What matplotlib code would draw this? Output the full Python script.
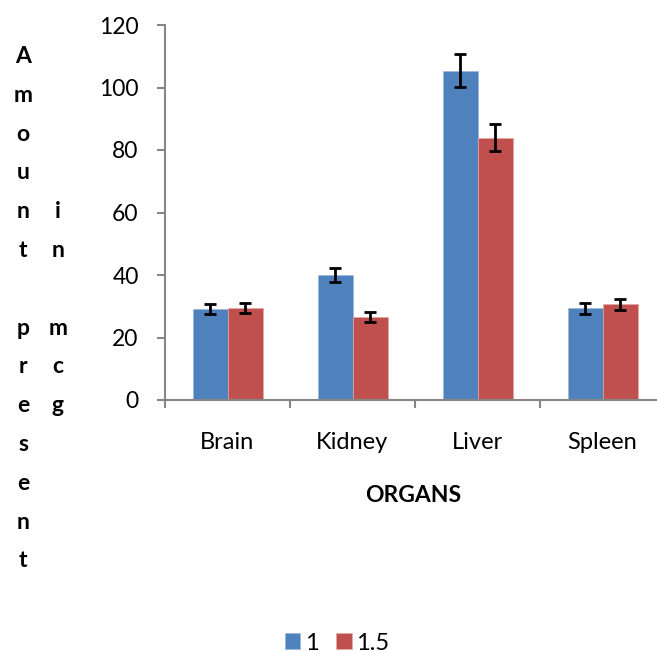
import numpy as np
import matplotlib
matplotlib.use("Agg")
import matplotlib.pyplot as plt

plt.rcParams['font.family'] = ['Lato', 'DejaVu Sans']

# Dados
organs = ["Brain", "Kidney", "Liver", "Spleen"]
series_names = ["1", "1.5"]
vals_1 = [29.0, 40.0, 105.4, 29.3]
vals_15 = [29.4, 26.6, 84.0, 30.6]
err_1 = [1.6, 2.1, 5.3, 1.7]
err_15 = [1.6, 1.5, 4.3, 1.8]
ylabel_col1 = "Amount present"
ylabel_col2 = "in mcg"

blue = "#4F81BD"
red = "#C0504D"
gray = "#868686"

W, H = 657, 652
fig = plt.figure(figsize=(W / 100, H / 100), dpi=100)
ax = fig.add_axes([165 / W, (H - 400) / H, 500 / W, 375 / H])

x = np.arange(len(organs))
bw = 0.28
ekw = dict(ecolor="black", elinewidth=2, capsize=4.3, capthick=2)
ax.bar(x - bw / 2, vals_1, bw, yerr=err_1, color=blue, edgecolor="#9DB7DA",
       linewidth=0.5, label=series_names[0], error_kw=ekw)
ax.bar(x + bw / 2, vals_15, bw, yerr=err_15, color=red, edgecolor="#E3A9A7",
       linewidth=0.5, label=series_names[1], error_kw=ekw)

ax.set_xlim(-0.5, 3.5)
ax.set_ylim(0, 120)
ax.set_yticks(np.arange(0, 121, 20))
ax.set_xticks(x)
ax.set_xticklabels(organs)
ax.set_xticks(np.arange(-0.5, 4, 1), minor=True)

for s in ["top", "right"]:
    ax.spines[s].set_visible(False)
for s in ["left", "bottom"]:
    ax.spines[s].set_color(gray)
    ax.spines[s].set_linewidth(1.5)

ax.tick_params(axis="y", length=6, width=1.5, color=gray, labelsize=16.5, pad=13)
ax.tick_params(axis="x", which="major", length=0, labelsize=17, pad=23)
ax.tick_params(axis="x", which="minor", length=6, width=1.5, color=gray)

fig.text(413 / W, 1 - 496 / H, "ORGANS", ha="center", va="center",
         fontsize=16.5, fontweight="bold")

# Rótulo do eixo y empilhado letra por letra
row0, step = 56.5, 38.8
for i, ch in enumerate(ylabel_col1.replace(" ", "")):
    r = i if i < 6 else i + 1
    fig.text(23 / W, 1 - (row0 + r * step) / H, ch, ha="center", va="center",
             fontsize=16.5, fontweight="bold")
for i, ch in enumerate(ylabel_col2.replace(" ", "")):
    r = 4 + i if i < 2 else 5 + i
    fig.text(58 / W, 1 - (row0 + r * step) / H, ch, ha="center", va="center",
             fontsize=16.5, fontweight="bold")

fig.legend(loc="center", bbox_to_anchor=(337 / W, 1 - 643 / H), ncol=2,
           frameon=False, fontsize=17, handlelength=0.65, handleheight=0.65,
           handletextpad=0.2, columnspacing=0.75)

fig.savefig("out.png", dpi=100)
